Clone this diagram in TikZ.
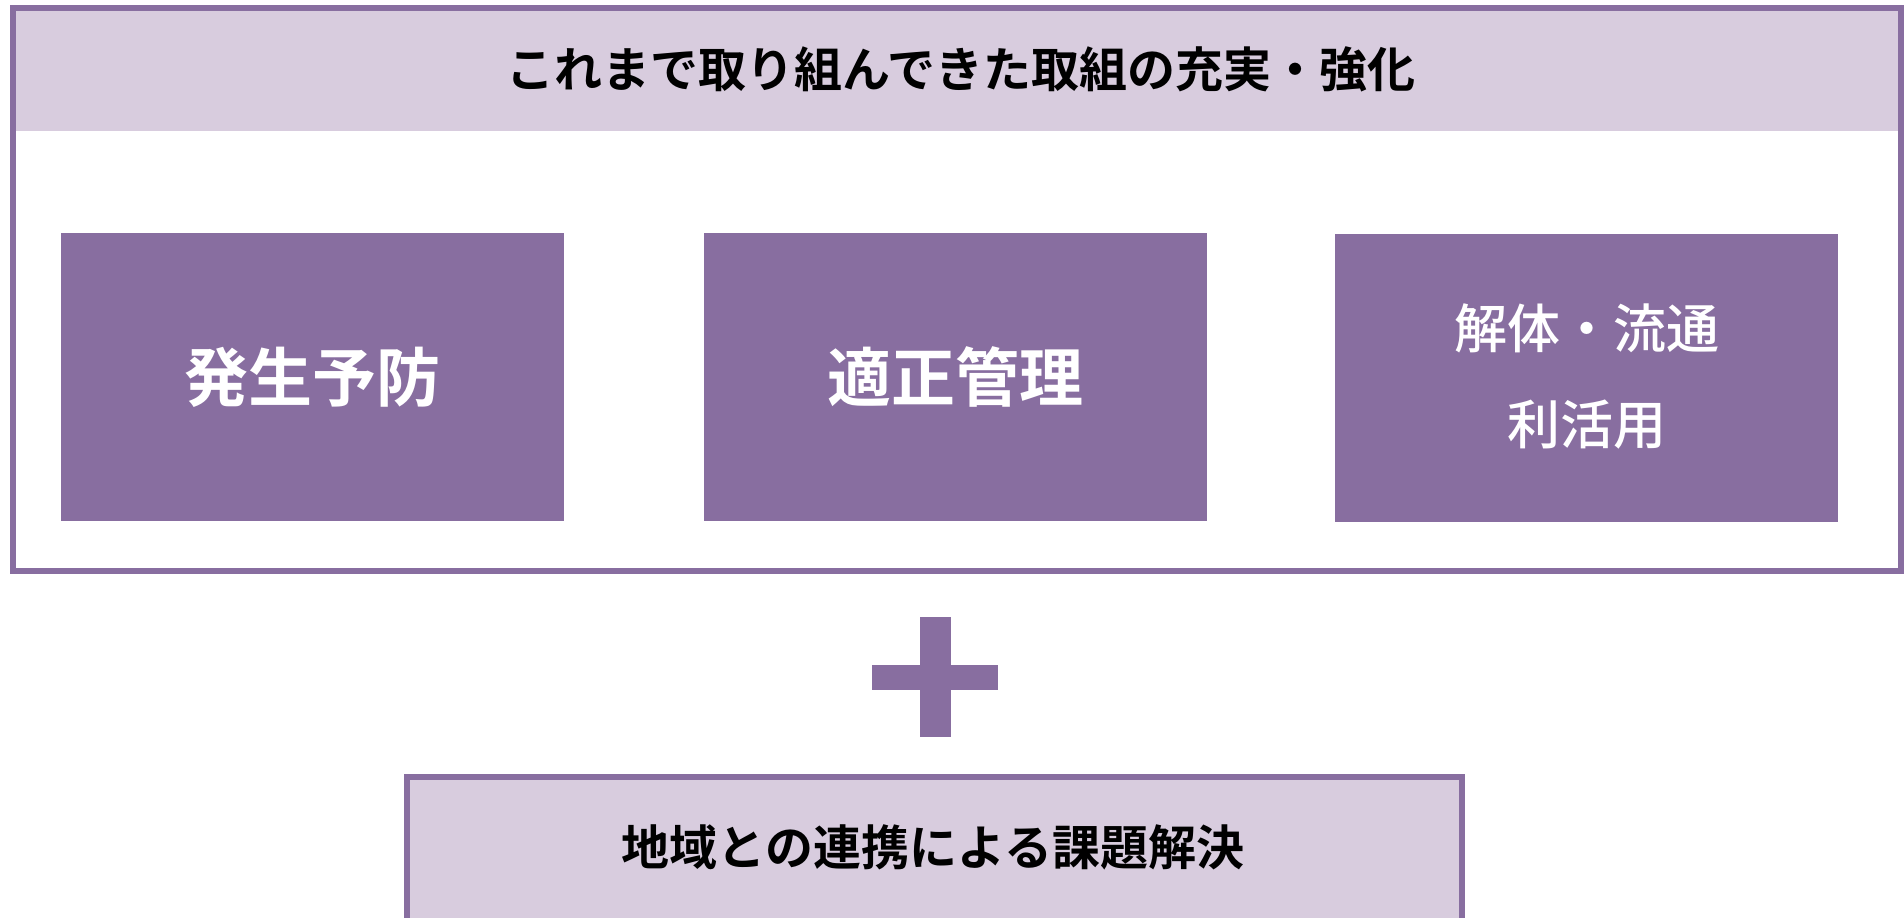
\documentclass[tikz,border=0pt]{standalone}
\usepackage{fontspec}
\newfontfamily\cjk{Noto Sans CJK JP}
\newfontfamily\cjkmed{Noto Sans CJK JP Medium}
\newfontfamily\cjkbold{Noto Sans CJK JP Bold}
\definecolor{purp}{HTML}{886EA0}
\definecolor{lav}{HTML}{D8CCDE}
\tikzset{
  purplebox/.style={fill=purp, inner sep=0pt, minimum width=503pt, minimum height=288pt, anchor=north west},
  whitetext/.style={text=white},
  frame/.style={draw=purp, line width=6pt},
  plusbar/.style={fill=purp, inner sep=0pt, draw=none},
}
\begin{document}
\begin{tikzpicture}[x=1pt,y=-1pt]
\useasboundingbox (0,0) rectangle (1904,918);
\clip (0,0) rectangle (1904,918);
\fill[white] (0,0) rectangle (1904,918);
% outer frame with header band
\fill[lav] (13,8) rectangle (1901,131);
\draw[frame] (13,8) rectangle (1901,571);
\node[font={\cjkbold\fontsize{48}{56}\selectfont}] (title) at (961,69) {これまで取り組んできた取組の充実・強化};
% three boxes
\node[purplebox] (b1) at (61,233) {};
\node[purplebox] (b2) at (704,233) {};
\node[purplebox] (b3) at (1335,234) {};
\node[whitetext, font={\cjkbold\fontsize{64}{72}\selectfont}] (t1) at (b1.center) {発生予防};
\node[whitetext, font={\cjkbold\fontsize{64}{72}\selectfont}] (t2) at (b2.center) {適正管理};
\node[whitetext, font={\cjkmed\fontsize{53}{60}\selectfont}] (t3a) at (1587,328) {解体・流通};
\node[whitetext, font={\cjkmed\fontsize{53}{60}\selectfont}] (t3b) at (1587,425) {利活用};
% plus sign
\node[plusbar, minimum width=31pt, minimum height=120pt] (pv) at (935,677) {};
\node[plusbar, minimum width=126pt, minimum height=25pt] (ph) at (935,677.5) {};
% bottom box
\draw[frame, fill=lav] (406.5,777) rectangle (1462,940);
\node[font={\cjkbold\fontsize{48}{56}\selectfont}] (bottom) at (933,847) {地域との連携による課題解決};
\end{tikzpicture}
\end{document}
